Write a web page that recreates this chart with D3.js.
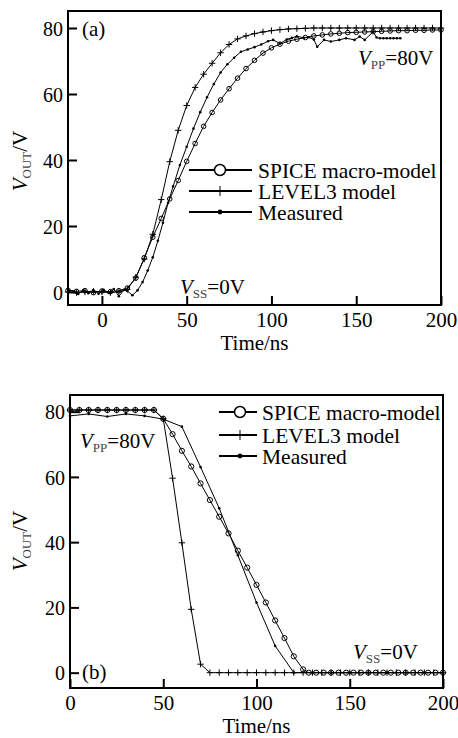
<!DOCTYPE html>
<html lang="en">
<head>
  <meta charset="UTF-8">
  <title>VOUT transient</title>
  <style>
    body { margin: 0; background: #fff; }
    svg { display: block; font-family: "Liberation Serif", "Times New Roman", serif; }
  </style>
  <script src="https://cdn.jsdelivr.net/npm/d3@7"></script>
</head>
<body>
<script>
// ---- panel (a): rising edge ----
var timeA = [-20, -15, -10, -5, 0, 5, 10, 15, 20, 25, 30, 35, 40, 45, 50, 55, 60, 65, 70, 75, 80, 85, 90, 95,
  100, 105, 110, 115, 120, 125, 130, 135, 140, 145, 150, 155, 160, 165, 170, 175, 180, 185, 190, 195, 200];
var spiceA = [0.5, 0.2, 0.4, -0.2, 0.3, 0.1, 0.4, 1.2, 4.2, 10.4, 16.6, 22.3, 28.2, 33.8, 39.6, 45.0, 50.2, 54.4,
  58.2, 61.6, 64.8, 67.7, 70.2, 72.4, 74.0, 75.1, 76.0, 76.6, 77.1, 77.6, 77.9, 78.2, 78.4, 78.6, 78.7, 78.8,
  78.9, 79.0, 79.1, 79.2, 79.2, 79.3, 79.3, 79.4, 79.4];
var level3A = [0, -0.2, 0, 0.2, 0, -0.2, 0.1, 0.8, 4.5, 10, 17.5, 28, 39.5, 49, 56.5, 62, 66, 69.3, 72.5, 75,
  76.7, 77.6, 78.3, 78.8, 79.2, 79.5, 79.7, 79.8, 79.9, 80, 80, 80, 80, 80, 80, 80, 80, 80, 80, 80, 80, 80, 80, 80, 80];
var measTimeA = [-20, -17, -14, -11, -8, -5, -2, 1, 4, 7, 10, 13, 15, 18, 21, 24, 27, 30, 33, 36, 39, 42, 46, 50,
  54, 58, 62, 66, 70, 74, 78, 82, 86, 90, 94, 98, 101, 105, 109, 112, 115, 119, 122, 125, 127, 131, 135, 140,
  144, 149, 152, 155, 160, 162, 164, 166, 168, 170, 172, 174, 176];
var measA = [0.8, 0.2, -0.6, 0.5, -0.4, 0.6, -0.5, 0.7, -0.3, 0.9, -1.3, 0.6, 0.3, -1.0, 0.5, 3, 6.5, 10.5, 15.5,
  21, 27, 32, 38.5, 44, 49.5, 54.5, 59, 63, 66.5, 69, 71, 72.8, 73.5, 74.2, 75, 76, 76.4, 75.3, 76.5, 77, 77.5,
  77, 77.2, 76.5, 74.3, 76.4, 75.9, 76.4, 76.9, 76.4, 77.4, 76.4, 78.9, 77.1, 76.9, 76.9, 76.9, 76.9, 76.9, 76.9, 76.9];

// ---- panel (b): falling edge ----
var timeB = [0, 5, 10, 15, 20, 25, 30, 35, 40, 45, 50, 55, 60, 65, 70, 75, 80, 85, 90, 95, 100, 105, 110, 115,
  120, 125, 130, 135, 140, 145, 150, 155, 160, 165, 170, 175, 180, 185, 190, 195, 200];
var level3B = [80.5, 80.5, 80.5, 80.5, 80.5, 80.5, 80.5, 80.5, 80.5, 80.5, 77.8, 59.6, 39.8, 19.4, 2.6, 0,
  0, 0, 0, 0, 0, 0, 0, 0, 0, 0, 0, 0, 0, 0, 0, 0, 0, 0, 0, 0, 0, 0, 0, 0, 0];
var spiceTimeB = [0, 5, 10, 15, 20, 25, 30, 35, 40, 45, 50, 55, 60, 65, 70, 75, 80, 85, 90, 95, 100, 105, 110,
  115, 120, 125, 128, 132, 136, 140, 144, 148, 152, 156, 160, 164, 168, 172, 176, 180, 184, 188, 192, 196, 200];
var spiceB = [80.5, 80.5, 80.5, 80.5, 80.5, 80.5, 80.5, 80.5, 80.5, 80.5, 77.8, 73.1, 68, 63.2, 58, 52.9, 47.8,
  42.7, 37.4, 32.2, 26.9, 21.5, 16, 10.6, 5, 1, 0, 0, 0, 0, 0, 0, 0, 0, 0, 0, 0, 0, 0, 0, 0, 0, 0, 0, 0];
var measTimeB = [0, 10, 20, 30, 40, 50, 60, 70, 80, 90, 100, 110, 120, 130, 140, 150, 160, 170, 180, 190, 200];
var measB = [78.7, 79.3, 78.5, 79.3, 78.7, 77.7, 75.4, 63, 50.4, 36, 21.5, 8.2, 0, 0, 0, 0, 0, 0, 0, 0, 0];

var legendNames = ["SPICE macro-model", "LEVEL3 model", "Measured"];
var legendMarkers = ["circle", "plus", "dot"];
var xTicksA = [0, 50, 100, 150, 200];
var xTicksB = [0, 50, 100, 150, 200];
var yTicks = [0, 20, 40, 60, 80];

var svg = d3.select("body").append("svg").attr("width", 458).attr("height", 738);

function marker(g, type, cx, cy, size) {
  if (type === "circle") {
    g.append("circle").attr("cx", cx).attr("cy", cy).attr("r", size)
      .attr("fill", "none").attr("stroke", "#000").attr("stroke-width", 1);
  } else if (type === "plus") {
    g.append("path").attr("d", "M" + (cx - size) + "," + cy + "H" + (cx + size) + "M" + cx + "," + (cy - size) + "V" + (cy + size))
      .attr("stroke", "#000").attr("stroke-width", 1);
  } else {
    g.append("circle").attr("cx", cx).attr("cy", cy).attr("r", size).attr("fill", "#000");
  }
}

function vText(g, sub, rest) {
  var t = g.append("text").attr("font-size", 21).attr("fill", "#000");
  t.append("tspan").attr("font-style", "italic").text("V");
  t.append("tspan").attr("font-size", 13).attr("dy", 4).attr("fill", "#444").text(sub);
  t.append("tspan").attr("dy", -4).text(rest);
  return t;
}

function drawPanel(cfg) {
  var g = svg.append("g");
  var x = d3.scaleLinear().domain(cfg.xDomain).range([cfg.left, cfg.right]);
  var y = d3.scaleLinear().domain(cfg.yDomain).range([cfg.bottom, cfg.top]);
  var line = d3.line()
    .x(function(d) { return x(d.t); })
    .y(function(d) { return y(d.v); });

  cfg.series.forEach(function(s) {
    var pts = s.t.map(function(t, i) { return { t: t, v: s.v[i] }; });
    g.append("path").datum(pts).attr("d", line)
      .attr("fill", "none").attr("stroke", "#000").attr("stroke-width", 1);
    var size = s.marker === "circle" ? cfg.circleR : (s.marker === "plus" ? 3.2 : 1.3);
    pts.forEach(function(d) { marker(g, s.marker, x(d.t), y(d.v), size); });
  });

  // axes, ticks point inward
  g.append("g")
    .attr("transform", "translate(0," + cfg.bottom + ")")
    .call(d3.axisBottom(x).tickValues(cfg.xTicks).tickSize(-9).tickSizeOuter(0).tickPadding(7))
    .call(function(a) {
      a.attr("font-size", 21).attr("font-family", null);
      a.select(".domain").remove();
      a.selectAll("line").attr("stroke", "#000").attr("stroke-width", 2);
      a.selectAll("text").attr("fill", "#000");
    });

  g.append("g")
    .attr("transform", "translate(" + cfg.left + ",0)")
    .call(d3.axisLeft(y).tickValues(yTicks).tickSize(-9).tickSizeOuter(0).tickPadding(5))
    .call(function(a) {
      a.attr("font-size", 20).attr("font-family", null);
      a.select(".domain").remove();
      a.selectAll("line").attr("stroke", "#000").attr("stroke-width", 2);
      a.selectAll("text").attr("fill", "#000").attr("dy", "0.36em");
    });

  g.append("rect")
    .attr("x", cfg.left).attr("y", cfg.top)
    .attr("width", cfg.right - cfg.left).attr("height", cfg.bottom - cfg.top)
    .attr("fill", "none").attr("stroke", "#000").attr("stroke-width", 2);

  g.append("text")
    .attr("x", (cfg.left + cfg.right) / 2).attr("y", cfg.bottom + 45)
    .attr("text-anchor", "middle").attr("font-size", 21)
    .text("Time/ns");

  vText(g, "OUT", "/V")
    .attr("text-anchor", "middle")
    .attr("transform", "translate(26.5," + cfg.yLabelY + ")rotate(-90)");

  // legend
  legendNames.forEach(function(name, i) {
    var ly = cfg.legendY[i];
    g.append("line")
      .attr("x1", cfg.legendX[0]).attr("x2", cfg.legendX[2])
      .attr("y1", ly).attr("y2", ly)
      .attr("stroke", "#000").attr("stroke-width", 2);
    var m = legendMarkers[i];
    if (m === "circle") {
      g.append("circle").attr("cx", cfg.legendX[1]).attr("cy", ly).attr("r", 5.5)
        .attr("fill", "#fff").attr("stroke", "#000").attr("stroke-width", 1.5);
    } else if (m === "plus") {
      marker(g, "plus", cfg.legendX[1], ly, 5);
    } else {
      marker(g, "dot", cfg.legendX[1], ly, 2.4);
    }
    g.append("text")
      .attr("x", cfg.legendX[3]).attr("y", ly + 7.5)
      .attr("font-size", 21.5)
      .text(name);
  });

  g.append("text").attr("x", cfg.tagPos[0]).attr("y", cfg.tagPos[1])
    .attr("font-size", 21).text(cfg.tag);
  vText(g, "PP", "=80V").attr("x", cfg.vppPos[0]).attr("y", cfg.vppPos[1]);
  vText(g, "SS", "=0V").attr("x", cfg.vssPos[0]).attr("y", cfg.vssPos[1]);
}

drawPanel({
  left: 68, right: 441, top: 11, bottom: 305,
  xDomain: [-20, 200], yDomain: [-3.94, 85.15],
  xTicks: xTicksA, circleR: 2.3, yLabelY: 161,
  series: [
    { t: measTimeA, v: measA, marker: "dot" },
    { t: timeA, v: level3A, marker: "plus" },
    { t: timeA, v: spiceA, marker: "circle" }
  ],
  legendY: [170, 191, 212], legendX: [189, 220, 252, 258],
  tag: "(a)", tagPos: [82, 36], vppPos: [358, 65], vssPos: [180, 294]
});

drawPanel({
  left: 70, right: 443, top: 395, bottom: 688,
  xDomain: [0, 200], yDomain: [-4.7, 85.1],
  xTicks: xTicksB, circleR: 2.6, yLabelY: 541,
  series: [
    { t: measTimeB, v: measB, marker: "dot" },
    { t: timeB, v: level3B, marker: "plus" },
    { t: spiceTimeB, v: spiceB, marker: "circle" }
  ],
  legendY: [412, 435, 456], legendX: [219, 240, 257, 262],
  tag: "(b)", tagPos: [82, 679], vppPos: [80, 448], vssPos: [353, 659]
});
</script>
</body>
</html>
